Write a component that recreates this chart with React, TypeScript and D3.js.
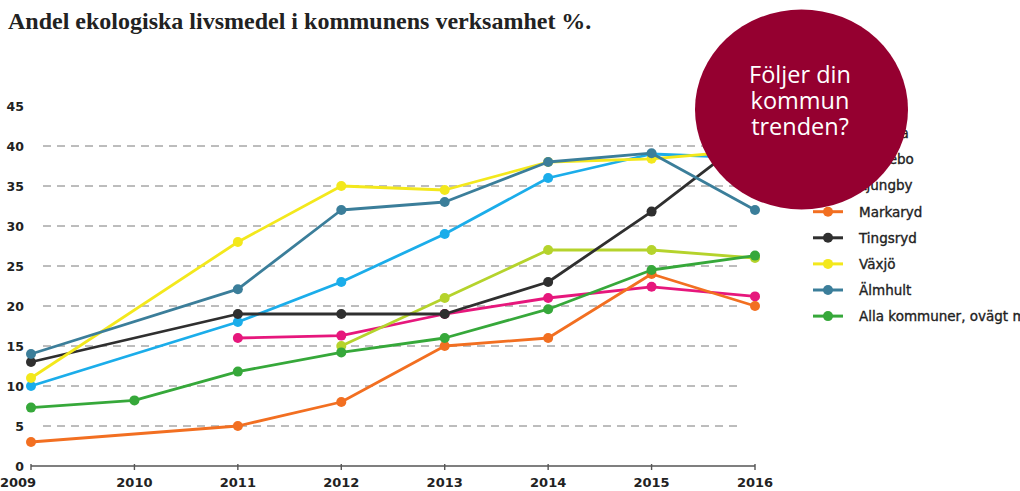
import React from "react";
import * as d3 from "d3";

const years = [2009, 2010, 2011, 2012, 2013, 2014, 2015, 2016];
const yTicks = [0, 5, 10, 15, 20, 25, 30, 35, 40, 45];
const gridTicks = [5, 10, 15, 20, 25, 30, 35, 40];

const seriesNames = ["Alvesta", "Lessebo", "Ljungby", "Markaryd", "Tingsryd", "Växjö", "Älmhult", "Alla kommuner, ovägt medel"];
const seriesColors = ["#1badea", "#e6177c", "#b5d32c", "#f26f21", "#2f2f2f", "#f3e81c", "#3b7e9a", "#36a83a"];

const alvesta = [10, null, 18, 23, 29, 36, 39, 38.5];
const lessebo = [null, null, 16, 16.3, 19, 21, 22.4, 21.2];
const ljungby = [null, null, null, 15, 21, 27, 27, 26];
const markaryd = [3, null, 5, 8, 15, 16, 24, 20];
const tingsryd = [13, null, 19, 19, 19, 23, 31.8, 41.7];
const vaxjo = [11, null, 28, 35, 34.5, 38, 38.4, 39.5];
const almhult = [14, null, 22.1, 32, 33, 38, 39.1, 32];
const alla = [7.3, 8.2, 11.8, 14.2, 16, 19.6, 24.5, 26.3];

const seriesValues = [alvesta, lessebo, ljungby, markaryd, tingsryd, vaxjo, almhult, alla];

const title = "Andel ekologiska livsmedel i kommunens verksamhet %.";
const bubbleLines = ["Följer din", "kommun", "trenden?"];

export default function App() {
  const W = 1020;
  const H = 491;
  const x = d3.scaleLinear().domain([2009, 2016]).range([31, 755]);
  const y = d3.scaleLinear().domain([0, 45]).range([466, 106]);

  const line = d3
    .line<[number, number]>()
    .x((d) => x(d[0]))
    .y((d) => y(d[1]));

  const pts = seriesValues.map((vals) =>
    years.map((yr, i) => [yr, vals[i]] as [number, number | null]).filter((p) => p[1] != null) as [number, number][]
  );

  const labelFont = "'DejaVu Sans', Verdana, sans-serif";

  return (
    <svg
      width={W}
      height={H}
      viewBox={`0 0 ${W} ${H}`}
      style={{ position: "fixed", left: 0, top: 0, background: "#fff" }}
    >
      <rect x={0} y={0} width={W} height={H} fill="#fff" />
      <text x={8} y={29} fontFamily="'Liberation Serif', 'Times New Roman', serif" fontWeight="bold" fontSize={24} fill="#222">
        {title}
      </text>

      {/* grid */}
      {gridTicks.map((t) => (
        <line key={"g" + t} x1={43} x2={743} y1={y(t)} y2={y(t)} stroke="#7a7a7a" strokeWidth={1} strokeDasharray="8,6" />
      ))}

      {/* y labels */}
      {yTicks.map((t) => (
        <text key={"yl" + t} x={24} y={y(t)} dy="0.36em" textAnchor="end" fontFamily={labelFont} fontWeight="bold" fontSize={12.5} fill="#222">
          {t}
        </text>
      ))}

      {/* x axis */}
      <line x1={x(2009)} x2={x(2016)} y1={y(0)} y2={y(0)} stroke="#555" strokeWidth={1.6} />
      {years.map((yr, i) => (
        <g key={"xt" + yr}>
          <line x1={x(yr)} x2={x(yr)} y1={y(0) - 2} y2={y(0) + 4} stroke="#555" strokeWidth={1.4} />
          <text
            x={x(yr) + (i === 0 ? -13 : 0)}
            y={487}
            textAnchor="middle"
            fontFamily={labelFont}
            fontWeight="bold"
            fontSize={13}
            fill="#222"
          >
            {yr}
          </text>
        </g>
      ))}

      {/* series */}
      {pts.map((p, si) => (
        <g key={"s" + si}>
          <path d={line(p) || ""} fill="none" stroke={seriesColors[si]} strokeWidth={2.8} strokeLinejoin="round" />
          {p.map((d, j) => (
            <circle key={j} cx={x(d[0])} cy={y(d[1])} r={5} fill={seriesColors[si]} />
          ))}
        </g>
      ))}

      {/* legend */}
      {seriesNames.map((name, i) => {
        const ly = 133.4 + i * 26.1;
        return (
          <g key={"lg" + i}>
            <line x1={813} x2={843} y1={ly} y2={ly} stroke={seriesColors[i]} strokeWidth={3} />
            <circle cx={828} cy={ly} r={5} fill={seriesColors[i]} />
            <text x={859} y={ly} dy="0.36em" fontFamily={labelFont} fontSize={13.5} fill="#222" stroke="#222" strokeWidth={0.35}>
              {name}
            </text>
          </g>
        );
      })}

      {/* bubble */}
      <ellipse cx={801.5} cy={109.5} rx={106.5} ry={100} fill="#950030" />
      {bubbleLines.map((t, i) => (
        <text key={"b" + i} x={800} y={83 + i * 26} textAnchor="middle" fontFamily="'Open Sans', sans-serif" fontSize={23.5} fill="#fff">
          {t}
        </text>
      ))}
    </svg>
  );
}
